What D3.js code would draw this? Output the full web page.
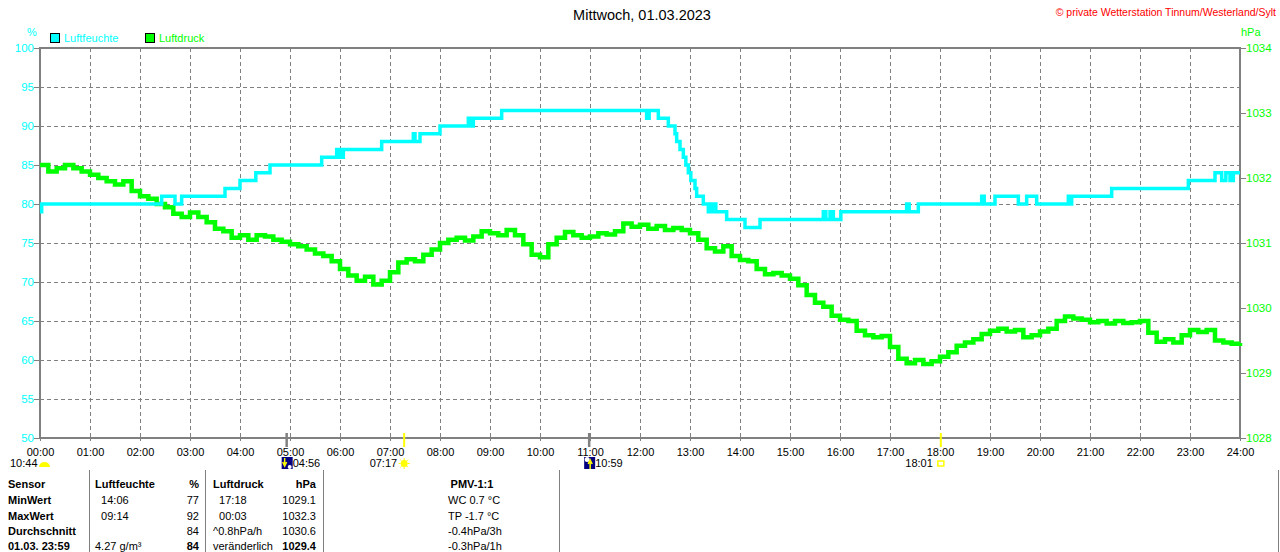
<!DOCTYPE html>
<html>
<head>
<meta charset="utf-8">
<script src="https://cdn.jsdelivr.net/npm/d3@7"></script>
<style>
    body { margin: 0; background: #fff; }
    svg { display: block; }
    text { font-family: Arial, "Liberation Sans", sans-serif; }
</style>
</head>
<body>
<div id="chart"></div>
<script>
// Tick labels
const hourLabels = ["00:00", "01:00", "02:00", "03:00", "04:00", "05:00", "06:00", "07:00", "08:00",
    "09:00", "10:00", "11:00", "12:00", "13:00", "14:00", "15:00", "16:00", "17:00", "18:00",
    "19:00", "20:00", "21:00", "22:00", "23:00", "24:00"];
const humTicks = [50, 55, 60, 65, 70, 75, 80, 85, 90, 95, 100];
const pressTicks = [1028, 1029, 1030, 1031, 1032, 1033, 1034];

// Luftfeuchte: change points (minutes since midnight) and value in %
const humMinutes = [0, 2, 146, 162, 170, 222, 240, 259, 276, 338, 356, 360, 364, 410, 448, 450, 456,
    480, 514, 516, 520, 554, 728, 731, 742, 754, 762, 764, 768, 772, 775, 778, 781, 786, 788, 796,
    802, 804, 806, 809, 811, 815, 824, 846, 864, 940, 943, 948, 952, 961, 1040, 1043, 1054, 1130,
    1133, 1146, 1174, 1184, 1196, 1234, 1236, 1238, 1241, 1286, 1378, 1410, 1418, 1423, 1428, 1432, 1440];
const humValues = [79, 80, 81, 80, 81, 82, 83, 84, 85, 86, 87, 86, 87, 88, 89, 88, 89,
    90, 91, 90, 91, 92, 91, 92, 91, 90, 89, 88, 87, 86, 85, 84, 83, 82, 81, 80,
    79, 80, 79, 80, 79, 79, 78, 77, 78, 79, 78, 79, 78, 79, 80, 79, 80, 81,
    80, 81, 80, 81, 80, 81, 80, 81, 81, 82, 83, 84, 83, 84, 83, 84, 84];

// Luftdruck: one reading every 10 minutes, hPa
const pressStep = 10;
const pressValues = [
    1032.2, 1032.1, 1032.15, 1032.2, 1032.15, 1032.1,
    1032.05, 1032.0, 1031.95, 1031.9, 1031.95, 1031.8,
    1031.72, 1031.68, 1031.6, 1031.55, 1031.45, 1031.4,
    1031.47, 1031.4, 1031.32, 1031.22, 1031.18, 1031.08,
    1031.12, 1031.05, 1031.12, 1031.1, 1031.05, 1031.02,
    1030.98, 1030.95, 1030.9, 1030.84, 1030.8, 1030.72,
    1030.6, 1030.5, 1030.42, 1030.48, 1030.36, 1030.42,
    1030.55, 1030.7, 1030.75, 1030.72, 1030.82, 1030.9,
    1031.0, 1031.05, 1031.08, 1031.04, 1031.1, 1031.18,
    1031.15, 1031.12, 1031.2, 1031.12, 1030.98, 1030.82,
    1030.78, 1030.98, 1031.08, 1031.17, 1031.12, 1031.08,
    1031.1, 1031.15, 1031.13, 1031.18, 1031.3, 1031.25,
    1031.28, 1031.22, 1031.26, 1031.2, 1031.23, 1031.2,
    1031.15, 1031.05, 1030.92, 1030.87, 1030.95, 1030.8,
    1030.74, 1030.72, 1030.6, 1030.52, 1030.54, 1030.5,
    1030.45, 1030.35, 1030.2, 1030.08, 1030.02, 1029.88,
    1029.82, 1029.8, 1029.65, 1029.58, 1029.55, 1029.57,
    1029.4, 1029.22, 1029.15, 1029.2, 1029.14, 1029.18,
    1029.25, 1029.32, 1029.42, 1029.47, 1029.52, 1029.6,
    1029.65, 1029.68, 1029.64, 1029.66, 1029.55, 1029.58,
    1029.64, 1029.68, 1029.8, 1029.87, 1029.84, 1029.82,
    1029.78, 1029.8, 1029.76, 1029.8, 1029.77, 1029.78,
    1029.8, 1029.62, 1029.48, 1029.52, 1029.47, 1029.58,
    1029.66, 1029.63, 1029.66, 1029.5, 1029.47, 1029.45,
    1029.46];

// Sun / moon events below the time axis
const eventLabels = ["04:56", "07:17", "10:59", "18:01"];
const eventMinutes = [296, 437, 659, 1081];
const eventKinds = ["moonset", "sunrise", "moonrise", "sunset"];
const dayLength = "10:44";

// Summary table
const tableHeader = ["Sensor", "Luftfeuchte", "%", "Luftdruck", "hPa", "PMV-1:1"];
const tableRows = [
    ["MinWert", "  14:06", "77", "  17:18", "1029.1", "WC 0.7 °C"],
    ["MaxWert", "  09:14", "92", "  00:03", "1032.3", "TP -1.7 °C"],
    ["Durchschnitt", "", "84", "^0.8hPa/h", "1030.6", "-0.4hPa/3h"],
    ["01.03. 23:59", "4.27 g/m³", "84", "veränderlich", "1029.4", "-0.3hPa/1h"]
];

const width = 1280, height = 552;
const cyan = "#00ffff", green = "#00ff00", grey = "#808080";

const svg = d3.select("#chart")
    .append("svg")
    .attr("width", width)
    .attr("height", height);

svg.append("rect").attr("width", width).attr("height", height).attr("fill", "#fff");

// Scales
const x = d3.scaleLinear().domain([0, 1440]).range([40, 1240]);
const yHum = d3.scaleLinear().domain([50, 100]).range([438, 48]);
const yPress = d3.scaleLinear().domain([1028, 1034]).range([438, 48]);

// Title and copyright
svg.append("text")
    .attr("x", 642).attr("y", 20)
    .attr("text-anchor", "middle")
    .attr("font-size", 14.5)
    .text("Mittwoch, 01.03.2023");

svg.append("text")
    .attr("x", 1276).attr("y", 16)
    .attr("text-anchor", "end")
    .attr("font-size", 10.5)
    .attr("fill", "#ff0000")
    .text("© private Wetterstation Tinnum/Westerland/Sylt");

// Units
svg.append("text").attr("x", 27).attr("y", 36).attr("font-size", 11).attr("fill", cyan).text("%");
svg.append("text").attr("x", 1241).attr("y", 36).attr("font-size", 11).attr("fill", green).text("hPa");

// Legend
const legend = [["Luftfeuchte", cyan, 50], ["Luftdruck", green, 145]];
legend.forEach(([name, color, lx]) => {
    svg.append("rect")
        .attr("x", lx + 0.5).attr("y", 33.5)
        .attr("width", 9).attr("height", 9)
        .attr("fill", color).attr("stroke", "#000");
    svg.append("text")
        .attr("x", lx + 14).attr("y", 42)
        .attr("font-size", 11)
        .attr("fill", color)
        .text(name);
});

// Grid
const grid = svg.append("g")
    .attr("stroke", grey)
    .attr("stroke-width", 1)
    .attr("stroke-dasharray", "4,3");

grid.selectAll("line.v")
    .data(d3.range(60, 1440, 60))
    .enter().append("line")
    .attr("x1", d => Math.round(x(d)) + 0.5).attr("x2", d => Math.round(x(d)) + 0.5)
    .attr("y1", 48).attr("y2", 438);

grid.selectAll("line.h")
    .data(humTicks.slice(1, -1))
    .enter().append("line")
    .attr("x1", 40).attr("x2", 1240)
    .attr("y1", d => Math.round(yHum(d)) + 0.5).attr("y2", d => Math.round(yHum(d)) + 0.5);

// Axes
const leftAxis = svg.append("g")
    .attr("transform", "translate(40,0)")
    .call(d3.axisLeft(yHum).tickValues(humTicks).tickSize(6).tickPadding(0));
leftAxis.select(".domain").remove();
leftAxis.selectAll("line").attr("stroke", grey);
leftAxis.selectAll("text").attr("fill", cyan).attr("font-size", 11.5).attr("font-family", null);

const rightAxis = svg.append("g")
    .attr("transform", "translate(1240,0)")
    .call(d3.axisRight(yPress).tickValues(pressTicks).tickSize(6).tickPadding(0).tickFormat(d3.format("d")));
rightAxis.select(".domain").remove();
rightAxis.selectAll("line").attr("stroke", grey);
rightAxis.selectAll("text").attr("fill", green).attr("font-size", 11.5).attr("font-family", null);

const bottomAxis = svg.append("g")
    .attr("transform", "translate(0,438)")
    .call(d3.axisBottom(x)
        .tickValues(hourLabels.map((d, i) => i * 60))
        .tickSize(3).tickPadding(7)
        .tickFormat((d, i) => hourLabels[i]));
bottomAxis.select(".domain").remove();
bottomAxis.selectAll("line").attr("stroke", grey);
bottomAxis.selectAll("text").attr("fill", "#000").attr("font-size", 11).attr("font-family", null);

// Plot frame
svg.append("rect")
    .attr("x", 40).attr("y", 48)
    .attr("width", 1200).attr("height", 390)
    .attr("fill", "none")
    .attr("stroke", grey)
    .attr("stroke-width", 2);

// Event tick marks on the time axis
svg.selectAll("line.event")
    .data(eventMinutes)
    .enter().append("line")
    .attr("x1", d => x(d)).attr("x2", d => x(d))
    .attr("y1", 433).attr("y2", 447)
    .attr("stroke", (d, i) => eventKinds[i].startsWith("sun") ? "#ffff00" : grey)
    .attr("stroke-width", (d, i) => eventKinds[i].startsWith("sun") ? 2 : 2.5);

// Data lines
const humData = humMinutes.map((t, i) => ({ t, v: humValues[i] }));
const pressData = pressValues.map((v, i) => ({ t: i * pressStep, v }));

svg.append("path")
    .datum(pressData)
    .attr("fill", "none")
    .attr("stroke", green)
    .attr("stroke-width", 4.5)
    .attr("d", d3.line().curve(d3.curveStepAfter).x(d => x(d.t)).y(d => yPress(d.v)));

svg.append("path")
    .datum(humData)
    .attr("fill", "none")
    .attr("stroke", cyan)
    .attr("stroke-width", 3.5)
    .attr("d", d3.line().curve(d3.curveStepAfter).x(d => x(d.t)).y(d => yHum(d.v)));

// Event labels and symbols
const ev = svg.append("g").attr("font-size", 11);

// day length with half sun
ev.append("text").attr("x", 10).attr("y", 467).text(dayLength);
ev.append("path")
    .attr("d", "M39,467 A5.5,5 0 0 1 50,467 Z")
    .attr("fill", "#ffff00");

eventKinds.forEach((kind, i) => {
    const ex = x(eventMinutes[i]);
    if (kind === "sunrise") {
        ev.append("text").attr("x", ex - 7).attr("y", 467).attr("text-anchor", "end").text(eventLabels[i]);
        const sun = ev.append("g").attr("transform", `translate(${ex},463.5)`);
        sun.append("circle").attr("r", 3.5).attr("fill", "#ffff00");
        sun.selectAll("line").data(d3.range(8)).enter().append("line")
            .attr("x1", a => Math.cos(a * Math.PI / 4) * 3.5).attr("y1", a => Math.sin(a * Math.PI / 4) * 3.5)
            .attr("x2", a => Math.cos(a * Math.PI / 4) * 5.5).attr("y2", a => Math.sin(a * Math.PI / 4) * 5.5)
            .attr("stroke", "#ffff00").attr("stroke-width", 1);
    } else if (kind === "sunset") {
        ev.append("text").attr("x", ex - 8).attr("y", 467).attr("text-anchor", "end").text(eventLabels[i]);
        ev.append("rect").attr("x", ex - 3).attr("y", 461).attr("width", 6).attr("height", 5)
            .attr("fill", "none").attr("stroke", "#ffff00").attr("stroke-width", 1.5);
    } else {
        const bx = ex - 5;
        ev.append("rect").attr("x", bx).attr("y", 457).attr("width", 11).attr("height", 12).attr("fill", "#000080");
        if (kind === "moonset") {
            ev.append("path").attr("d", `M${bx + 3},458 V464 M${bx + 1},462 L${bx + 3},466 L${bx + 5},462`)
                .attr("stroke", "#ffff00").attr("stroke-width", 1.5).attr("fill", "none");
            ev.append("circle").attr("cx", bx + 8).attr("cy", 467).attr("r", 2).attr("fill", "#fff");
        } else {
            ev.append("circle").attr("cx", bx + 3).attr("cy", 459.5).attr("r", 2.5).attr("fill", "#fff");
            ev.append("path").attr("d", `M${bx + 6},469 V462 M${bx + 4},464 L${bx + 6},460 L${bx + 8},464`)
                .attr("stroke", "#ffff00").attr("stroke-width", 1.5).attr("fill", "none");
        }
        ev.append("text").attr("x", ex + 6).attr("y", 467).text(eventLabels[i]);
    }
});

// Summary table
const table = svg.append("g").attr("font-size", 11);
const colX = [8, 95, 199, 213, 316, 448];
const colAnchor = ["start", "start", "end", "start", "end", "start"];
const rowY = [488, 504, 519.5, 535, 549.5];

[89, 205, 323, 559, 1278].forEach(sx => {
    table.append("line")
        .attr("x1", sx + 0.5).attr("x2", sx + 0.5)
        .attr("y1", 470).attr("y2", 552)
        .attr("stroke", grey);
});

tableHeader.forEach((h, c) => {
    table.append("text")
        .attr("x", c === 5 ? 472 : colX[c]).attr("y", rowY[0])
        .attr("text-anchor", c === 5 ? "middle" : colAnchor[c])
        .attr("font-weight", "bold")
        .text(h);
});

tableRows.forEach((row, r) => {
    row.forEach((cell, c) => {
        const last = r === tableRows.length - 1;
        table.append("text")
            .attr("x", colX[c]).attr("y", rowY[r + 1])
            .attr("text-anchor", colAnchor[c])
            .attr("font-weight", c === 0 || (last && (c === 2 || c === 4)) ? "bold" : null)
            .attr("xml:space", "preserve")
            .style("white-space", "pre")
            .text(cell);
    });
});
</script>
</body>
</html>
